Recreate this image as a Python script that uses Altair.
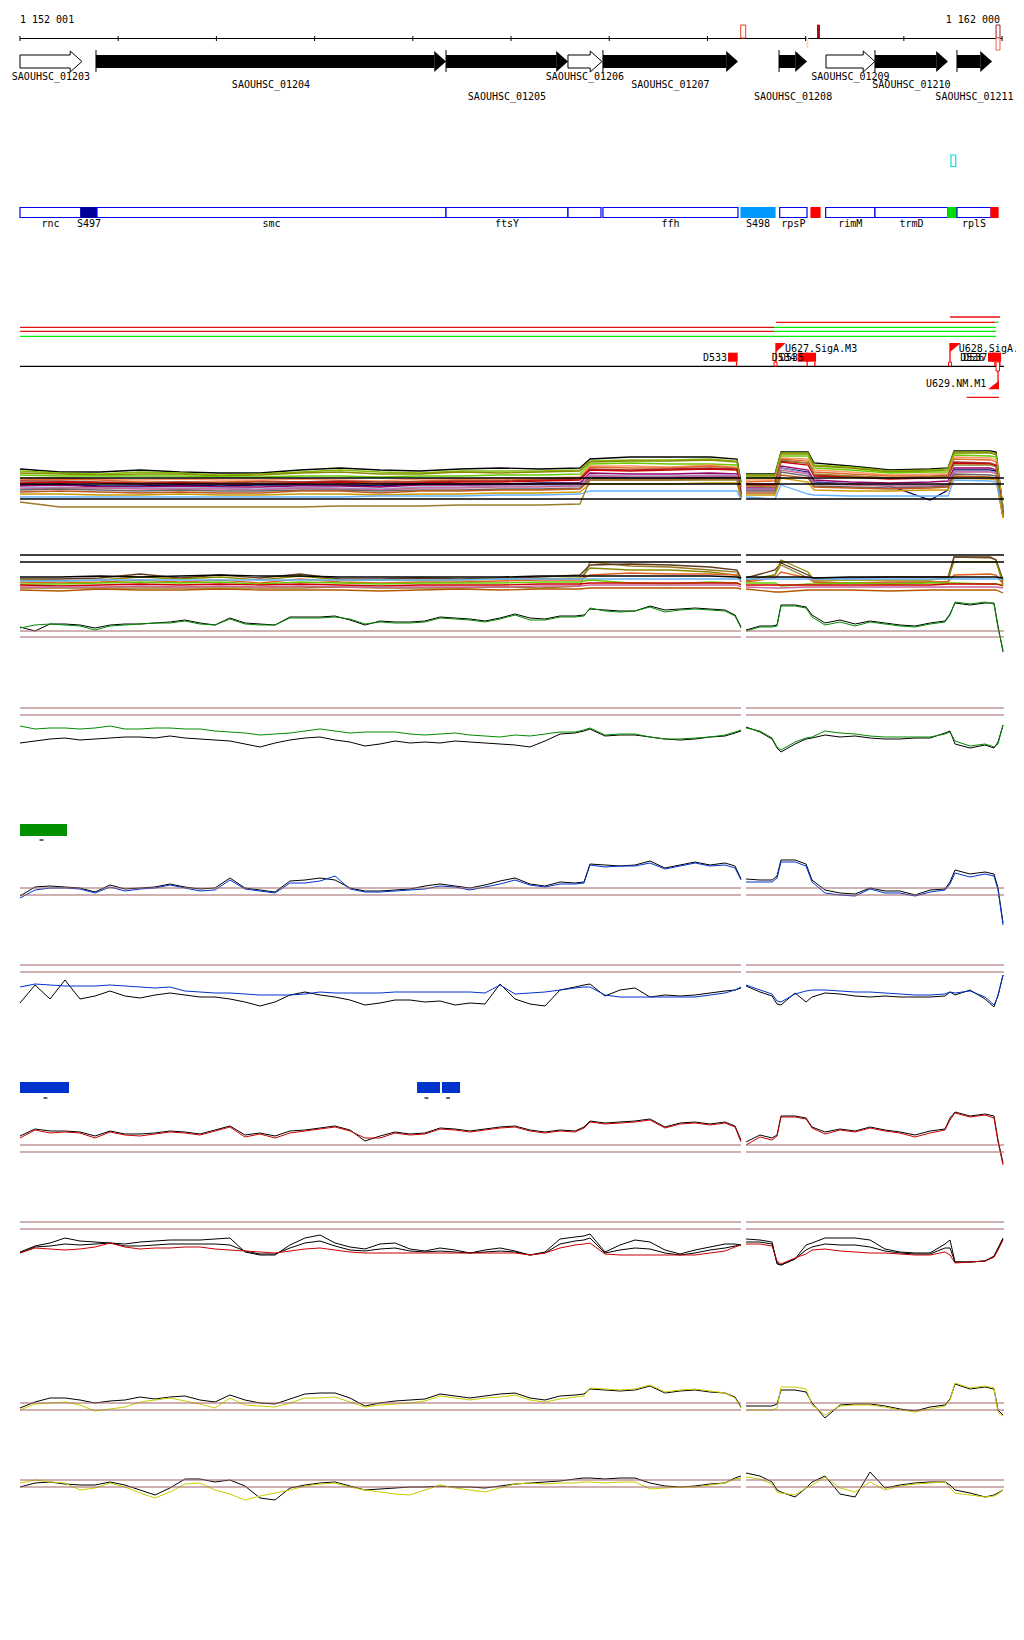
import altair as alt
import pandas as pd

# ---------------- genome window ----------------
X_DOM = [1151879, 1162143]
Y_DOM = [8, 1628]
RULER = [1152001, 1162001]
TICKS = [1152001 + 1000 * k for k in range(11)]

# ---------------- genes (top track) ----------------
GENE_NAMES = ["SAOUHSC_01203", "SAOUHSC_01204", "SAOUHSC_01205", "SAOUHSC_01206", "SAOUHSC_01207",
              "SAOUHSC_01208", "SAOUHSC_01209", "SAOUHSC_01210", "SAOUHSC_01211"]
GENE_START = [1152001, 1152775, 1156339, 1157581, 1157937, 1159730, 1160208, 1160707, 1161542]
GENE_END = [1152632, 1156339, 1157581, 1157927, 1159312, 1160015, 1160707, 1161450, 1161899]
GENE_FILLED = [False, True, True, False, True, True, False, True, True]
GENE_LANE = [0, 1, 2, 0, 1, 2, 0, 1, 2]

# ---------------- operons / transcripts ----------------
OP_NAME = ["rnc", "S497", "smc", "ftsY", "", "ffh", "S498", "rpsP", "", "rimM", "trmD", "", "rplS", ""]
OP_START = [1152001, 1152622, 1152785, 1156339, 1157581, 1157937, 1159343, 1159737, 1160056, 1160205,
            1160707, 1161450, 1161542, 1161889]
OP_END = [1152622, 1152785, 1156339, 1157581, 1157917, 1159312, 1159689, 1160015, 1160147, 1160707,
          1161450, 1161542, 1161889, 1161960]
OP_FILL = ["white", "#000099", "white", "white", "white", "white", "#0099ff", "white", "#ff0000", "white",
           "white", "#00dd00", "white", "#ff0000"]

# ---------------- signal tracks: sample positions ----------------
POS_L = [1152001, 1152154, 1152307, 1152459, 1152612, 1152765, 1152918, 1153070, 1153223, 1153376,
         1153528, 1153681, 1153834, 1153987, 1154139, 1154292, 1154445, 1154598, 1154750, 1154903,
         1155056, 1155209, 1155361, 1155514, 1155667, 1155820, 1155972, 1156125, 1156278, 1156431,
         1156583, 1156736, 1156889, 1157042, 1157194, 1157347, 1157500, 1157653, 1157744, 1157805,
         1157958, 1158111, 1158264, 1158416, 1158569, 1158722, 1158875, 1159027, 1159180, 1159282,
         1159343]
POS_R = [1159394, 1159536, 1159659, 1159710, 1159750, 1159893, 1160005, 1160066, 1160198, 1160351,
         1160504, 1160657, 1160809, 1160962, 1161115, 1161268, 1161420, 1161471, 1161522, 1161675,
         1161828, 1161919, 1161960, 1162011]
POS_CL = [1152001, 1152408, 1152816, 1153223, 1153630, 1154038, 1154445, 1154852, 1155260, 1155667,
          1156074, 1156482, 1156889, 1157296, 1157703, 1157805, 1158213, 1158620, 1159027, 1159302,
          1159343]
POS_CR = [1159394, 1159689, 1159750, 1160025, 1160086, 1160453, 1160860, 1161268, 1161451, 1161512,
          1161879, 1161940, 1162011]

# track 6 / 7 (green)
G6_L = [628,625,624,625,626,630,626,625,624,623, 623,621,624,625,619,624,625,625,618,618,
        618,617,619,624,622,623,623,622,618,619, 620,622,619,615,620,620,617,617,616,608,
        611,612,611,607,612,610,609,610,611,616, 628]
G6_R = [631,627,627,626,606,606,608,617,625,622, 626,622,624,626,627,624,622,615,602,604, 602,604,628,650]
K6_L = [627,631,624,624,625,628,625,624,624,623, 622,620,623,625,618,623,624,625,617,617,
        617,616,620,625,621,622,622,621,617,618, 619,621,618,614,618,619,616,616,615,609,
        610,611,611,606,610,609,608,609,610,615, 627]
K6_R = [630,626,626,625,605,605,607,615,623,620, 624,621,623,625,626,623,621,614,603,605, 603,603,626,652]
G7_L = [726,729,728,728,729,728,726,729,729,728, 728,729,729,731,732,733,735,734,733,731,
        729,731,733,732,732,732,734,735,734,733, 735,736,737,735,736,734,732,732,730,728,
        735,734,734,737,739,739,738,737,735,732, 730]
G7_R = [728,731,738,747,750,742,738,737,731,733, 734,736,737,737,737,737,734,732,741,746, 744,747,744,725]
K7_L = [743,741,739,738,740,739,738,737,737,738, 736,738,739,740,741,744,747,743,740,738,
        737,740,742,746,744,741,743,742,743,741, 742,743,744,745,747,741,734,733,731,729,
        736,735,735,737,739,740,739,737,736,733, 731]
K7_R = [727,732,739,748,752,744,739,738,735,737, 736,738,739,739,738,738,733,731,744,748, 745,748,742,725]

# track 8 / 9 (blue)
B8_L = [898,890,888,888,889,893,887,891,889,888, 885,888,891,890,880,889,891,893,883,883,
        881,876,889,892,892,891,890,889,886,887, 890,887,884,880,885,887,884,884,883,865,
        867,866,866,863,869,866,863,866,865,868, 880]
B8_R = [882,882,882,878,862,862,866,882,893,895, 896,889,893,893,896,892,890,884,873,877, 874,876,890,925]
K8_L = [896,887,886,887,888,892,885,889,888,887, 884,887,889,888,878,888,890,892,881,880,
        878,880,888,891,891,890,889,886,884,886, 888,885,881,878,884,886,882,883,882,864,
        865,866,865,861,868,865,862,865,863,866, 879]
K8_R = [879,880,880,876,860,860,864,880,890,893, 894,888,891,891,895,890,889,882,870,874, 872,874,888,923]
B9_L = [987,984,985,986,986,986,985,986,987,988, 987,991,992,993,993,994,995,995,995,994,
        992,993,993,993,993,992,992,992,992,992, 992,993,985,994,993,992,990,988,987,987,
        995,997,997,997,997,997,997,995,993,990, 987]
B9_R = [985,990,994,1001,1002,994,991,990,990,991, 992,992,993,994,995,995,994,992,993,991, 997,1005,996,975]
K9_L = [1003,985,999,980,999,996,991,996,998,995, 993,995,997,997,999,1002,1006,1002,995,992,
        995,997,1000,1005,1003,1000,1000,1002,1001,1005, 1003,1004,984,999,1004,1006,990,987,985,984,
        996,990,988,997,995,996,995,993,991,990, 988]
K9_R = [986,992,996,1004,1005,993,1002,997,993,994, 996,997,996,997,997,997,996,992,995,990, 999,1007,995,975]

# track 10 / 11 (red)
R10_L = [1138,1130,1133,1132,1133,1138,1132,1135,1136,1134, 1132,1133,1135,1131,1127,1137,1134,1138,1133,1131,
         1129,1127,1131,1138,1138,1133,1135,1134,1129,1130, 1132,1130,1128,1127,1131,1133,1131,1132,1128,1122,
         1124,1123,1122,1120,1128,1124,1123,1125,1123,1127, 1142]
R10_R = [1145,1137,1140,1136,1117,1117,1119,1128,1134,1130, 1132,1128,1131,1133,1137,1133,1130,1120,1113,1117,
         1115,1118,1142,1165]
K10_L = [1136,1129,1131,1131,1132,1136,1131,1134,1134,1133, 1131,1132,1134,1130,1126,1135,1133,1136,1131,1130,
         1128,1126,1130,1141,1136,1132,1134,1133,1128,1129, 1131,1129,1127,1126,1130,1132,1130,1131,1127,1121,
         1123,1122,1121,1119,1127,1123,1122,1124,1122,1126, 1140]
K10_R = [1142,1135,1138,1135,1116,1116,1118,1127,1132,1129, 1131,1127,1130,1132,1135,1131,1129,1118,1112,1116,
         1114,1116,1140,1163]
R11_L = [1253,1248,1249,1250,1249,1247,1243,1247,1249,1248, 1248,1247,1247,1249,1250,1251,1252,1253,1251,1249,
         1248,1250,1252,1253,1253,1253,1253,1253,1253,1253, 1253,1253,1253,1253,1255,1253,1248,1245,1244,1243,
         1254,1255,1255,1255,1255,1255,1255,1253,1251,1247, 1245]
R11_R = [1244,1244,1246,1261,1264,1258,1254,1250,1249,1251, 1252,1253,1253,1254,1255,1255,1252,1255,1263,1262,
         1261,1257,1250,1240]
K11_L = [1252,1246,1243,1238,1241,1242,1243,1244,1242,1241, 1240,1240,1240,1239,1238,1252,1255,1255,1245,1238,
         1235,1243,1247,1249,1244,1243,1249,1251,1248,1250, 1253,1250,1248,1251,1255,1252,1239,1237,1236,1234,
         1252,1245,1240,1242,1250,1254,1250,1247,1244,1244, 1245]
K11_R = [1239,1240,1242,1264,1265,1259,1245,1243,1238,1238, 1238,1240,1249,1252,1253,1253,1244,1240,1262,1262,
         1261,1256,1248,1238]
K11B_L = [1253,1247,1246,1244,1245,1244,1243,1246,1246,1245, 1244,1244,1244,1244,1245,1251,1254,1254,1248,1243,
          1241,1246,1250,1251,1249,1248,1251,1252,1251,1252, 1253,1252,1251,1252,1255,1253,1244,1241,1240,1238,
          1253,1250,1248,1249,1253,1255,1253,1250,1248,1246, 1245]
K11B_R = [1242,1242,1244,1263,1265,1259,1250,1247,1244,1245, 1245,1247,1251,1253,1254,1254,1248,1248,1262,1262,
          1261,1257,1249,1239]

# track 12 / 13 (yellow)
Y12_L = [1410,1404,1403,1402,1405,1411,1409,1407,1402,1400, 1398,1401,1404,1408,1398,1405,1406,1407,1403,1398,
         1398,1397,1402,1407,1405,1404,1403,1401,1396,1398, 1400,1398,1397,1395,1400,1402,1399,1397,1396,1388,
         1389,1390,1389,1385,1392,1390,1389,1391,1393,1398, 1408]
Y12_R = [1410,1410,1410,1408,1387,1387,1389,1405,1415,1406, 1405,1405,1407,1410,1412,1409,1406,1400,1383,1388,
         1386,1388,1412,1416]
K12_L = [1408,1402,1398,1398,1400,1403,1401,1400,1397,1399, 1397,1396,1400,1402,1395,1400,1403,1404,1399,1394,
         1393,1393,1398,1406,1403,1401,1400,1399,1394,1396, 1398,1396,1394,1393,1398,1400,1396,1395,1394,1389,
         1390,1391,1390,1386,1393,1391,1390,1392,1393,1397, 1407]
K12_R = [1406,1406,1406,1404,1390,1390,1392,1403,1418,1405, 1404,1404,1406,1409,1411,1407,1405,1399,1384,1389,
         1387,1389,1410,1415]
Y13_L = [1483,1480,1482,1483,1490,1488,1483,1487,1493,1498, 1492,1484,1483,1490,1494,1500,1496,1493,1490,1486,
         1484,1483,1487,1490,1492,1494,1495,1490,1485,1488, 1490,1492,1488,1484,1483,1484,1483,1483,1482,1482,
         1483,1482,1482,1489,1488,1487,1487,1485,1483,1479, 1478]
Y13_R = [1477,1479,1484,1492,1493,1495,1488,1485,1477,1488, 1492,1482,1490,1486,1484,1483,1482,1488,1493,1495,
         1497,1496,1494,1490]
K13_L = [1487,1483,1482,1484,1485,1485,1482,1485,1490,1495, 1488,1479,1479,1482,1480,1486,1498,1500,1488,1485,
         1483,1482,1486,1490,1489,1488,1487,1487,1486,1487, 1487,1488,1486,1484,1483,1482,1481,1479,1478,1478,
         1479,1478,1478,1483,1486,1487,1486,1484,1483,1478, 1476]
K13_R = [1473,1476,1482,1490,1492,1497,1488,1482,1476,1494, 1497,1472,1488,1485,1483,1482,1482,1485,1490,1493,
         1497,1495,1493,1490]

# multi-sample track 4
M4 = {
    "#000000": ([469,472,472,470,472,473,473,470,468,470,471,469,468,469,468,459,457,457,457,459,482],
                [474,474,452,452,463,466,470,469,468,451,451,452,508]),
    "#7fbf00": ([471,473,474,472,473,475,474,472,470,472,473,471,471,471,470,461,460,460,459,461,485],
                [475,475,453,453,465,467,471,470,469,452,452,454,509]),
    "#8a8a00": ([473,474,475,474,474,476,475,473,472,474,474,472,473,472,471,462,461,461,460,462,487],
                [476,476,454,454,466,468,472,471,470,453,453,455,510]),
    "#66cc00": ([475,476,476,476,476,477,477,476,476,477,476,476,475,475,474,464,463,464,464,465,490],
                [478,478,456,456,468,470,473,472,472,455,456,457,512]),
    "#ff9966": ([478,478,479,480,479,480,480,479,480,481,479,479,478,478,477,466,466,467,465,467,491],
                [480,480,458,459,470,472,475,474,474,457,458,460,513]),
    "#e06a2c": ([480,479,480,482,482,482,481,482,483,483,481,480,480,479,478,467,468,468,466,468,492],
                [482,481,459,461,472,474,476,476,475,459,460,462,514]),
    "#993333": ([481,481,482,483,482,483,482,482,481,482,482,481,481,480,479,469,470,469,468,469,493],
                [484,484,461,463,475,476,478,477,476,462,463,465,514]),
    "#cc0000": ([483,482,483,484,483,484,484,483,482,484,483,482,482,481,480,470,471,470,469,470,494],
                [485,485,462,465,476,477,479,478,477,463,464,466,515]),
    "#000066": ([485,484,486,486,485,486,485,485,485,486,484,484,484,483,483,478,478,478,477,477,495],
                [489,489,468,472,482,484,486,500,490,470,470,471,512]),
    "#990066": ([486,485,487,487,486,487,487,486,486,487,485,485,485,484,483,473,474,474,473,474,497],
                [488,488,466,470,480,482,483,482,481,468,468,470,516]),
    "#9999cc": ([488,487,488,488,488,488,489,487,488,489,487,487,486,486,485,475,476,476,475,475,497],
                [489,489,468,473,483,484,485,485,484,471,471,473,516]),
    "#cc6699": ([489,488,488,489,489,489,490,488,489,490,488,488,487,487,486,476,477,477,476,476,498],
                [490,490,470,474,484,485,486,486,485,472,472,474,517]),
    "#666666": ([490,489,490,491,490,491,491,490,490,491,490,490,489,489,488,478,479,479,478,478,498],
                [491,491,472,476,486,487,488,487,486,474,475,476,517]),
    "#c0561c": ([492,491,492,493,492,493,493,491,491,493,491,491,490,490,489,480,480,480,479,479,499],
                [493,493,475,478,487,488,489,488,487,476,477,478,518]),
    "#cc9900": ([494,494,495,495,494,495,495,494,494,495,494,494,493,493,492,484,484,484,483,483,499],
                [495,495,478,482,490,491,491,490,490,478,479,480,518]),
    "#66b2ff": ([497,497,497,497,497,497,497,497,497,496,496,496,495,495,494,491,491,491,491,491,500],
                [497,499,485,494,495,496,496,496,496,480,481,482,510]),
    "#9a7a2a": ([502,507,507,507,507,507,507,507,506,506,506,505,505,505,504,480,480,480,480,480,496],
                [486,487,460,463,474,476,478,477,476,465,465,467,513]),
}
# multi-sample track 5
M5 = {
    "#9a7a2a": ([588,588,588,588,588,588,588,588,587,588,588,588,587,588,586,562,566,567,570,572,582],
                [581,575,565,578,582,583,583,582,582,557,558,560,585]),
    "#5c3a1e": ([579,579,578,574,578,575,578,574,579,579,578,579,578,577,575,565,564,565,567,570,578],
                [578,570,563,575,578,578,577,577,577,557,557,560,580]),
    "#8a8a00": ([580,581,580,577,579,577,580,576,580,580,580,580,579,579,578,568,570,570,572,575,580],
                [580,575,560,572,580,580,580,580,578,562,562,562,582]),
    "#e06020": ([582,583,582,580,582,580,583,579,582,583,582,582,581,580,580,575,573,574,574,575,582],
                [582,578,572,578,582,583,582,582,582,575,574,575,584]),
    "#66b2ff": ([581,581,580,580,580,580,580,580,580,580,580,580,579,579,579,579,579,579,579,579,580],
                [579,579,579,579,579,579,579,579,579,579,579,579,579]),
    "#66cc00": ([584,584,583,582,583,582,584,582,583,584,583,583,583,582,582,580,583,584,582,583,584],
                [583,583,586,584,584,583,584,583,583,583,584,584,585]),
    "#cc0000": ([585,586,585,584,585,584,585,584,585,586,585,585,585,584,584,583,583,583,583,583,585],
                [585,585,585,585,585,585,585,585,584,584,584,584,586]),
    "#cc6699": ([587,587,587,586,587,586,587,586,587,587,587,587,587,586,586,585,585,585,585,585,587],
                [587,588,588,587,587,587,587,587,587,587,587,587,588]),
    "#b35900": ([590,591,589,590,590,589,590,590,590,591,590,589,590,589,589,588,588,588,588,588,589],
                [589,592,592,590,590,590,591,590,590,590,590,590,593]),
    "#000000": ([577,577,576,577,576,575,576,576,577,577,577,577,577,576,576,576,576,576,576,577,578],
                [577,577,577,577,578,577,577,577,577,577,577,577,578]),
}

# reference (threshold) lines per track
REF_BLACK = [478, 484, 499, 555, 562]
REF_BROWN = [631, 637, 708, 715, 888, 895, 965, 972, 1145, 1152, 1222, 1229, 1403, 1410, 1480, 1487]
SEGMENTS = [(1152001, 1159343), (1159394, 1162021)]

# ---------------- scales / helpers ----------------
xs = alt.Scale(domain=X_DOM, nice=False, zero=False)
ys = alt.Scale(domain=Y_DOM, nice=False, zero=False, reverse=True)
FONT = "DejaVu Sans Mono"


def X(f="x"):
    return alt.X(f"{f}:Q", scale=xs, axis=None)


def Y(f="y"):
    return alt.Y(f"{f}:Q", scale=ys, axis=None)


layers = []

# ruler
layers.append(alt.Chart(pd.DataFrame({"x": [RULER[0]], "x2": [RULER[1]], "y": [38.5]}))
              .mark_rule(color="black", strokeWidth=1).encode(x=X(), x2="x2:Q", y=Y()))
layers.append(alt.Chart(pd.DataFrame({"x": TICKS, "y": [36] * len(TICKS), "y2": [41] * len(TICKS)}))
              .mark_rule(color="black", strokeWidth=1).encode(x=X(), y=Y(), y2="y2:Q"))
layers.append(alt.Chart(pd.DataFrame({"x": [1152001], "y": [20], "t": ["1 152 001"]}))
              .mark_text(font=FONT, fontSize=10, align="left", baseline="middle")
              .encode(x=X(), y=Y(), text="t:N"))
layers.append(alt.Chart(pd.DataFrame({"x": [1161980], "y": [20], "t": ["1 162 000"]}))
              .mark_text(font=FONT, fontSize=10, align="right", baseline="middle")
              .encode(x=X(), y=Y(), text="t:N"))
# ruler highlight markers
mk = pd.DataFrame({
    "x": [1159340, 1160122, 1161940, 1161940],
    "x2": [1159391, 1160142, 1161980, 1161980],
    "y": [25, 25, 25, 38], "y2": [38, 38, 38, 50],
    "fill": ["white", "#b01010", "white", "white"],
    "stroke": ["#e0401e", "#b01010", "#a02020", "#f06050"],
})
layers.append(alt.Chart(mk).mark_rect(strokeWidth=1).encode(
    x=X(), x2="x2:Q", y=Y(), y2="y2:Q",
    fill=alt.Fill("fill:N", scale=None), stroke=alt.Stroke("stroke:N", scale=None)))
layers.append(alt.Chart(pd.DataFrame({"x": [1160010], "x2": [1160028], "y": [38], "y2": [48]}))
              .mark_rect(color="#fbd5c8").encode(x=X(), x2="x2:Q", y=Y(), y2="y2:Q"))

# genes
HEAD = 120
body_rows, head_rows, tick_rows, poly_rows, lab_rows = [], [], [], [], []
LANE_Y = [76.5, 85, 97]
for n, s, e, f, ln in zip(GENE_NAMES, GENE_START, GENE_END, GENE_FILLED, GENE_LANE):
    hs = e - HEAD
    if f:
        body_rows.append({"x": s, "x2": hs, "y": 55, "y2": 68})
        head_rows += [{"g": n, "x": hs, "y": 51, "y2": 72}, {"g": n, "x": e, "y": 61.5, "y2": 61.5}]
        tick_rows.append({"x": s, "y": 50, "y2": 72})
    else:
        pts = [(s, 55), (hs, 55), (hs, 51), (e, 61.5), (hs, 72), (hs, 68), (s, 68), (s, 55)]
        for i, (px, py) in enumerate(pts):
            poly_rows.append({"g": n, "o": i, "x": px, "y": py})
    lab_rows.append({"x": (s + e) / 2, "y": LANE_Y[ln], "t": n})
layers.append(alt.Chart(pd.DataFrame(body_rows)).mark_rect(color="black")
              .encode(x=X(), x2="x2:Q", y=Y(), y2="y2:Q"))
layers.append(alt.Chart(pd.DataFrame(head_rows)).mark_area(color="black", orient="vertical")
              .encode(x=X(), y=Y(), y2="y2:Q", detail="g:N"))
layers.append(alt.Chart(pd.DataFrame(tick_rows)).mark_rule(color="black", strokeWidth=1)
              .encode(x=X(), y=Y(), y2="y2:Q"))
layers.append(alt.Chart(pd.DataFrame(poly_rows)).mark_line(color="black", strokeWidth=1)
              .encode(x=X(), y=Y(), detail="g:N", order="o:Q"))
layers.append(alt.Chart(pd.DataFrame(lab_rows))
              .mark_text(font=FONT, fontSize=10, align="center", baseline="middle")
              .encode(x=X(), y=Y(), text="t:N"))

# operon strip
op = pd.DataFrame({"x": OP_START, "x2": OP_END, "fill": OP_FILL,
                   "stroke": ["#0000ee" if c == "white" else c for c in OP_FILL],
                   "y": [207.5] * len(OP_START), "y2": [217.5] * len(OP_START)})
layers.append(alt.Chart(op).mark_rect(strokeWidth=1.2).encode(
    x=X(), x2="x2:Q", y=Y(), y2="y2:Q",
    fill=alt.Fill("fill:N", scale=None), stroke=alt.Stroke("stroke:N", scale=None)))
oplab = pd.DataFrame({"x": [(a + b) / 2 for a, b in zip(OP_START, OP_END)], "t": OP_NAME,
                      "y": [224] * len(OP_NAME)})
oplab = oplab[oplab.t != ""]
layers.append(alt.Chart(oplab).mark_text(font=FONT, fontSize=10, align="center", baseline="middle")
              .encode(x=X(), y=Y(), text="t:N"))
layers.append(alt.Chart(pd.DataFrame({"x": [1161481], "x2": [1161529], "y": [155], "y2": [166.5]}))
              .mark_rect(fill="white", stroke="#00e0e0", strokeWidth=1.2)
              .encode(x=X(), x2="x2:Q", y=Y(), y2="y2:Q"))

# track 3: coverage bars and regulatory features
t3 = pd.DataFrame({
    "x":  [1152001, 1152001, 1152001, 1159679, 1159679, 1159699, 1161929, 1161471, 1152001, 1161641],
    "x2": [1159679, 1159679, 1161940, 1161940, 1161940, 1161929, 1161965, 1161980, 1162021, 1161970],
    "y":  [327.3, 331.3, 336.3, 327.3, 331.3, 322.3, 322.3, 317, 366.3, 397.3],
    "c":  ["#dd1111", "#dd1111", "#00ee00", "#00ee00", "#00ee00", "#ee1111", "#00ee00", "#ee1111",
           "#000000", "#ee1111"],
})
layers.append(alt.Chart(t3).mark_rule(strokeWidth=1.3).encode(
    x=X(), x2="x2:Q", y=Y(), color=alt.Color("c:N", scale=None)))

FEAT_NAME = ["D533", "D534", "D535", "D536", "D537"]
FEAT_START = [1159211, 1159920, 1160005, 1161858, 1161899]
FEAT_END = [1159309, 1160028, 1160107, 1161940, 1161991]
FEAT_LAB_END = [1159200, 1159900, 1159985, 1161820, 1161850]
feat = pd.DataFrame({"x": FEAT_START, "x2": FEAT_END, "y": [352.7] * 5, "y2": [361.7] * 5})
layers.append(alt.Chart(feat).mark_rect(color="#ff0000").encode(x=X(), x2="x2:Q", y=Y(), y2="y2:Q"))
stems = pd.DataFrame({"x": [e - 12 for e in FEAT_END] + [1159699, 1161471, 1161960],
                      "y": [361.7] * 5 + [343, 343, 366],
                      "y2": [366] * 5 + [366, 366, 389]})
layers.append(alt.Chart(stems).mark_rule(color="#ff0000", strokeWidth=1.3).encode(x=X(), y=Y(), y2="y2:Q"))
smallbox = pd.DataFrame({"x": [1159679, 1161456, 1161940], "x2": [1159709, 1161486, 1161975],
                         "y": [362, 362, 362], "y2": [366, 366, 371]})
layers.append(alt.Chart(smallbox).mark_rect(fill="white", stroke="#ff0000", strokeWidth=1)
              .encode(x=X(), x2="x2:Q", y=Y(), y2="y2:Q"))
flab = pd.DataFrame({"x": FEAT_LAB_END, "y": [357.5] * 5, "t": FEAT_NAME})
layers.append(alt.Chart(flab).mark_text(font=FONT, fontSize=10, align="right", baseline="middle")
              .encode(x=X(), y=Y(), text="t:N"))
tri = pd.DataFrame({
    "g": ["U627", "U627", "U628", "U628", "U629", "U629"],
    "x": [1159699, 1159798, 1161471, 1161580, 1161858, 1161970],
    "y": [343, 343, 343, 343, 389.3, 380.7],
    "y2": [352, 343, 352, 343, 389.3, 389.3],
})
layers.append(alt.Chart(tri).mark_area(color="#ff0000", orient="vertical")
              .encode(x=X(), y=Y(), y2="y2:Q", detail="g:N"))
ulab = pd.DataFrame({"x": [1159790, 1161560], "y": [349, 349], "t": ["U627.SigA.M3", "U628.SigA.M3"]})
layers.append(alt.Chart(ulab).mark_text(font=FONT, fontSize=10, align="left", baseline="middle")
              .encode(x=X(), y=Y(), text="t:N"))
layers.append(alt.Chart(pd.DataFrame({"x": [1161840], "y": [384], "t": ["U629.NM.M1"]}))
              .mark_text(font=FONT, fontSize=10, align="right", baseline="middle")
              .encode(x=X(), y=Y(), text="t:N"))

# ---------------- signal lines ----------------
rows = []


def add(name, color, pl, vl, pr, vr, w=1.0):
    assert len(pl) == len(vl) and len(pr) == len(vr), name
    for p, v in zip(pl, vl):
        rows.append({"seg": name + "L", "x": p, "y": v, "c": color, "w": w})
    for p, v in zip(pr, vr):
        rows.append({"seg": name + "R", "x": p, "y": v, "c": color, "w": w})


for i, (c, (vl, vr)) in enumerate(M4.items()):
    add(f"m4_{i}", c, POS_CL, vl, POS_CR, vr, 1.3)
for i, (c, (vl, vr)) in enumerate(M5.items()):
    add(f"m5_{i}", c, POS_CL, vl, POS_CR, vr, 1.3)

add("K6", "#000000", POS_L, K6_L, POS_R, K6_R)
add("G6", "#008a00", POS_L, G6_L, POS_R, G6_R)
add("K7", "#000000", POS_L, K7_L, POS_R, K7_R)
add("G7", "#008a00", POS_L, G7_L, POS_R, G7_R)
add("K8", "#000000", POS_L, K8_L, POS_R, K8_R)
add("B8", "#0033cc", POS_L, B8_L, POS_R, B8_R)
add("K9", "#000000", POS_L, K9_L, POS_R, K9_R)
add("B9", "#0033cc", POS_L, B9_L, POS_R, B9_R)
add("K10", "#000000", POS_L, K10_L, POS_R, K10_R)
add("R10", "#cc0000", POS_L, R10_L, POS_R, R10_R)
add("K11", "#000000", POS_L, K11_L, POS_R, K11_R)
add("K11b", "#000000", POS_L, K11B_L, POS_R, K11B_R)
add("R11", "#cc0000", POS_L, R11_L, POS_R, R11_R)
add("K12", "#000000", POS_L, K12_L, POS_R, K12_R)
add("Y12", "#cccc00", POS_L, Y12_L, POS_R, Y12_R)
add("K13", "#000000", POS_L, K13_L, POS_R, K13_R)
add("Y13", "#cccc00", POS_L, Y13_L, POS_R, Y13_R)

sig = pd.DataFrame(rows)
layers.append(alt.Chart(sig).mark_line(interpolate="linear").encode(
    x=X(), y=Y(), detail="seg:N", color=alt.Color("c:N", scale=None),
    strokeWidth=alt.StrokeWidth("w:Q", scale=None)))

ref_rows = []
for yv in REF_BLACK:
    for a, b in SEGMENTS:
        ref_rows.append({"x": a, "x2": b, "y": yv, "c": "#000000", "w": 1.4})
for yv in REF_BROWN:
    for a, b in SEGMENTS:
        ref_rows.append({"x": a, "x2": b, "y": yv, "c": "#a06464", "w": 1.2})
layers.append(alt.Chart(pd.DataFrame(ref_rows)).mark_rule().encode(
    x=X(), x2="x2:Q", y=Y(), color=alt.Color("c:N", scale=None),
    strokeWidth=alt.StrokeWidth("w:Q", scale=None)))

# highlighted regions (tracks 8, 10)
hl = pd.DataFrame({"x": [1152001, 1152001, 1156044, 1156298],
                   "x2": [1152480, 1152500, 1156278, 1156482],
                   "y": [824, 1082, 1082, 1082], "y2": [836, 1093, 1093, 1093],
                   "c": ["#009000", "#0033cc", "#0033cc", "#0033cc"]})
layers.append(alt.Chart(hl).mark_rect().encode(x=X(), x2="x2:Q", y=Y(), y2="y2:Q",
                                               color=alt.Color("c:N", scale=None)))
dash = pd.DataFrame({"x": [1152200, 1152240, 1156120, 1156340],
                     "x2": [1152240, 1152280, 1156160, 1156380],
                     "y": [840, 1098, 1098, 1098]})
layers.append(alt.Chart(dash).mark_rule(color="black", strokeWidth=1.2).encode(x=X(), x2="x2:Q", y=Y()))

chart = alt.layer(*layers).properties(
    width=1008, height=1620, padding=0,
    autosize=alt.AutoSizeParams(type="none"),
    background="white",
).configure_view(stroke=None)

chart.save("out.html", embed_options={"renderer": "svg", "actions": False})
